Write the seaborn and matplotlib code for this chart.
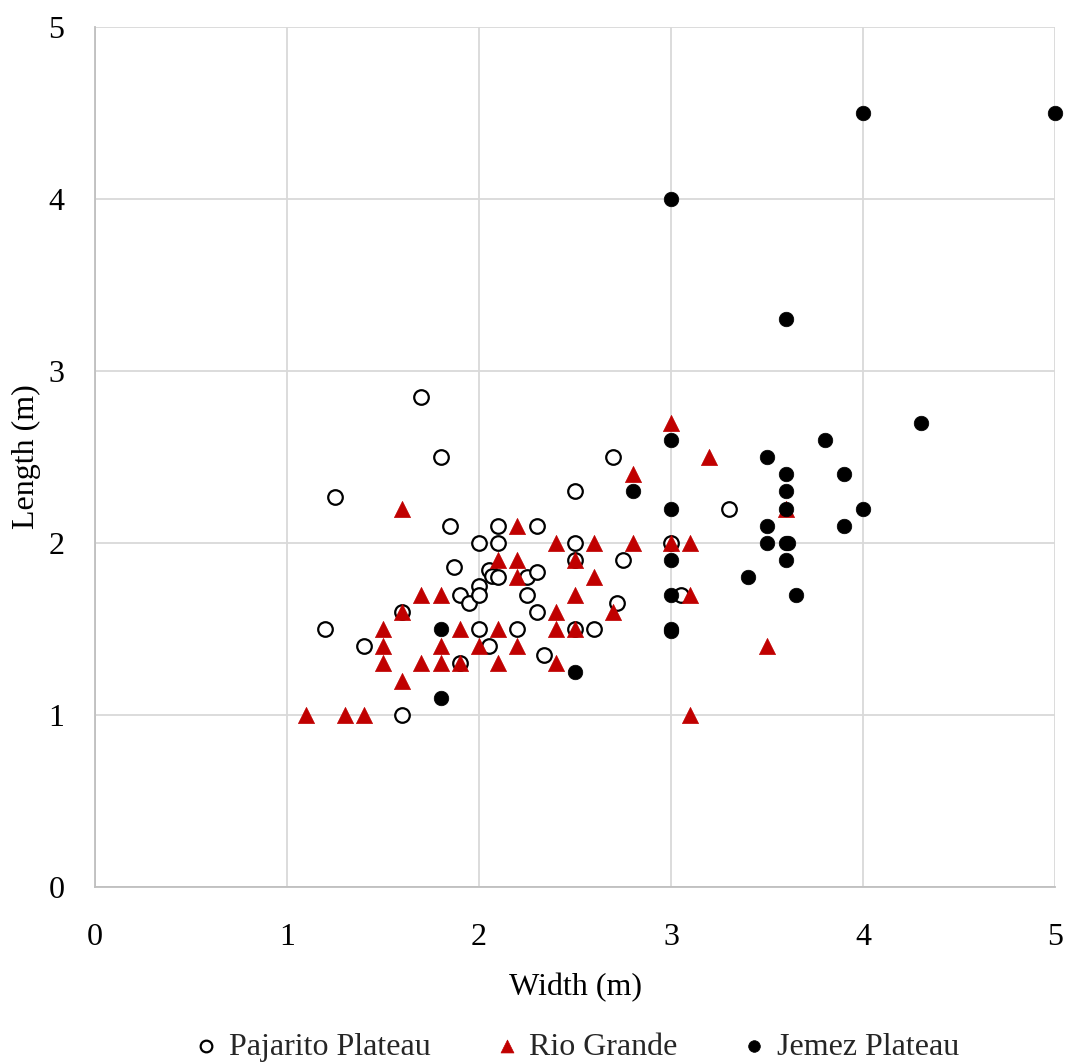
import matplotlib
matplotlib.use("Agg")
import matplotlib.pyplot as plt
import seaborn as sns
import pandas as pd

# Pajarito Plateau (open circles)
paj_w = [1.20, 1.25, 1.40, 1.60, 1.60, 1.70, 1.80, 1.85, 1.87, 1.90, 1.90, 1.95, 2.00, 2.00,
         2.00, 2.00, 2.05, 2.07, 2.05, 2.10, 2.10, 2.10, 2.20, 2.25, 2.25, 2.30, 2.30, 2.30,
         2.34, 2.50, 2.50, 2.50, 2.50, 2.60, 2.70, 2.72, 2.75, 3.00, 3.05, 3.30]
paj_l = [1.50, 2.27, 1.40, 1.60, 1.00, 2.85, 2.50, 2.10, 1.86, 1.70, 1.30, 1.65, 2.00, 1.75,
         1.70, 1.50, 1.84, 1.81, 1.40, 2.10, 2.00, 1.80, 1.50, 1.80, 1.70, 2.10, 1.83, 1.60,
         1.35, 2.30, 2.00, 1.90, 1.50, 1.50, 2.50, 1.65, 1.90, 2.00, 1.70, 2.20]

# Rio Grande (red triangles)
rio_w = [1.1, 1.3, 1.4, 1.5, 1.5, 1.5, 1.6, 1.6, 1.6, 1.7, 1.7, 1.8, 1.8, 1.8, 1.9, 1.9,
         2.0, 2.1, 2.1, 2.1, 2.2, 2.2, 2.2, 2.2, 2.4, 2.4, 2.4, 2.4, 2.5, 2.5, 2.5, 2.6,
         2.6, 2.7, 2.8, 2.8, 3.0, 3.0, 3.1, 3.1, 3.1, 3.2, 3.5, 3.6]
rio_l = [1.0, 1.0, 1.0, 1.5, 1.4, 1.3, 2.2, 1.6, 1.2, 1.7, 1.3, 1.7, 1.4, 1.3, 1.5, 1.3,
         1.4, 1.9, 1.5, 1.3, 2.1, 1.9, 1.8, 1.4, 2.0, 1.6, 1.5, 1.3, 1.9, 1.7, 1.5, 2.0,
         1.8, 1.6, 2.4, 2.0, 2.7, 2.0, 2.0, 1.7, 1.0, 2.5, 1.4, 2.2]

# Jemez Plateau (black filled circles)
jem_w = [1.8, 1.8, 2.5, 2.8, 3.0, 3.0, 3.0, 3.0, 3.0, 3.0, 3.0, 3.4, 3.5, 3.5, 3.5,
         3.6, 3.6, 3.6, 3.6, 3.6, 3.61, 3.6, 3.65, 3.8, 3.9, 3.9, 4.0, 4.0, 4.3, 5.0]
jem_l = [1.5, 1.1, 1.25, 2.3, 4.0, 2.6, 2.2, 1.9, 1.7, 1.5, 1.49, 1.8, 2.5, 2.1, 2.0,
         3.3, 2.4, 2.3, 2.2, 2.0, 2.0, 1.9, 1.7, 2.6, 2.4, 2.1, 4.5, 2.2, 2.7, 4.5]

ticks = [0, 1, 2, 3, 4, 5]

sns.set_theme(style="white")
plt.rcParams['font.family'] = ['Liberation Serif', 'DejaVu Serif']

fig = plt.figure(figsize=(10.66, 10.62), dpi=100)
ax = fig.add_axes([0.0891, 0.1648, 0.9006, 0.8098])

sns.scatterplot(x=paj_w, y=paj_l, ax=ax, marker='o', s=110, facecolor='white',
                edgecolor='black', linewidth=1.6, label='Pajarito Plateau', zorder=3, clip_on=False)
sns.scatterplot(x=rio_w, y=rio_l, ax=ax, marker='^', s=135, color='#c00000',
                edgecolor='#c00000', linewidth=0.5, label='Rio Grande', zorder=3, clip_on=False)
sns.scatterplot(x=jem_w, y=jem_l, ax=ax, marker='o', s=110, color='black',
                edgecolor='black', linewidth=0.5, label='Jemez Plateau', zorder=4, clip_on=False)

ax.set_xlim(0, 5)
ax.set_ylim(0, 5)
ax.set_xticks(ticks)
ax.set_yticks(ticks)
ax.set_xticklabels([str(t) for t in ticks])
ax.set_yticklabels([str(t) for t in ticks])
ax.grid(True, color='#d9d9d9', linewidth=1.3, zorder=0)
ax.set_axisbelow(True)
for side in ['top', 'right']:
    ax.spines[side].set_visible(False)
for side in ['left', 'bottom']:
    ax.spines[side].set_color('#bfbfbf')
    ax.spines[side].set_linewidth(1.3)
ax.tick_params(axis='x', length=0, pad=26, labelsize=23, colors='black')
ax.tick_params(axis='y', length=0, pad=22, labelsize=23, colors='black')
ax.set_xlabel('Width (m)', fontsize=23, labelpad=15, color='black')
ax.set_ylabel('Length (m)', fontsize=23, labelpad=5, color='black')

leg = ax.legend(loc='center', bbox_to_anchor=(0.503, -0.186), ncol=3, frameon=False,
                fontsize=23, markerscale=0.8, handlelength=0.6, handletextpad=0.4,
                columnspacing=2.1, borderpad=0.0)

fig.savefig('out.png', dpi=100)
